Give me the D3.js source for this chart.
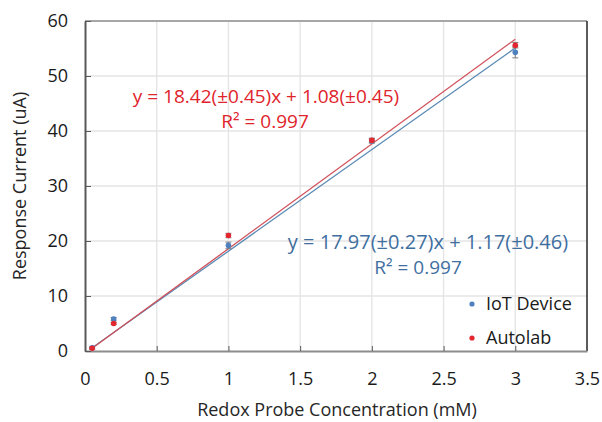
<!DOCTYPE html>
<html>
<head>
<meta charset="utf-8">
<script src="https://cdn.jsdelivr.net/npm/d3@7"></script>
<style>
  body { margin: 0; background: #fff; }
  text { font-family: "Open Sans", sans-serif; }
</style>
</head>
<body>
<svg width="602" height="422"></svg>
<script>
(function (d3) {
  'use strict';

  // concentrations (mM)
  const conc = [0.05, 0.2, 1, 2, 3];
  // response current (uA) and error
  const iotValues = [0.6, 5.8, 19.2, 38.2, 54.3];
  const iotErrors = [0.2, 0.3, 0.6, 0.4, 1.0];
  const autolabValues = [0.5, 5.0, 21.0, 38.3, 55.6];
  const autolabErrors = [0.2, 0.2, 0.4, 0.4, 0.5];
  // trend lines as drawn (start and end current at first/last concentration)
  const iotTrend = [0.6, 55.1];
  const autolabTrend = [0.5, 56.7];

  const xTicks = [0, 0.5, 1, 1.5, 2, 2.5, 3, 3.5];
  const yTicks = [0, 10, 20, 30, 40, 50, 60];

  const COLORS = {
    iot: '#4e81bd',
    iotLine: '#5a8ab4',
    iotText: '#3f6f9f',
    autolab: '#e3262f',
    autolabLine: '#d0505a',
    autolabText: '#e0242c',
    grid: '#e4e4e4'
  };

  const margin = { left: 85, top: 21, right: 15, bottom: 71 };
  const W = 602, H = 422;

  const svg = d3.select('svg');
  const x = d3.scaleLinear().domain([0, 3.5]).range([margin.left, W - margin.right]);
  const y = d3.scaleLinear().domain([0, 60]).range([H - margin.bottom, margin.top]);

  // grid
  svg.append('g').selectAll('line').data(xTicks.slice(1, -1)).enter().append('line')
    .attr('x1', d => x(d)).attr('x2', d => x(d))
    .attr('y1', y(0)).attr('y2', y(60))
    .attr('stroke', COLORS.grid).attr('stroke-width', 1.3);
  svg.append('g').selectAll('line').data(yTicks.slice(1, -1)).enter().append('line')
    .attr('x1', x(0)).attr('x2', x(3.5))
    .attr('y1', d => y(d)).attr('y2', d => y(d))
    .attr('stroke', COLORS.grid).attr('stroke-width', 1.3);

  // frame: top and right
  svg.append('line').attr('x1', x(0)).attr('x2', x(3.5)).attr('y1', y(60)).attr('y2', y(60))
    .attr('stroke', '#a6a6a6').attr('stroke-width', 2);
  svg.append('line').attr('x1', x(3.5)).attr('x2', x(3.5)).attr('y1', y(60)).attr('y2', y(0))
    .attr('stroke', '#262626').attr('stroke-width', 1.5);

  // axes
  const xAxis = svg.append('g').attr('transform', `translate(0,${y(0)})`)
    .call(d3.axisBottom(x).tickValues(xTicks).tickSizeInner(-5).tickSizeOuter(0)
      .tickFormat(d3.format('')));
  xAxis.select('.domain').attr('stroke', '#8c8c8c').attr('stroke-width', 2);
  xAxis.selectAll('.tick line').attr('stroke', '#595959');
  xAxis.selectAll('.tick text').attr('y', 21).attr('dy', '0.71em')
    .attr('font-size', 18).attr('fill', '#1a1a1a');

  const yAxis = svg.append('g').attr('transform', `translate(${x(0)},0)`)
    .call(d3.axisLeft(y).tickValues(yTicks).tickSizeInner(-6).tickSizeOuter(0));
  yAxis.select('.domain').attr('stroke', '#595959').attr('stroke-width', 2);
  yAxis.selectAll('.tick line').attr('stroke', '#595959');
  yAxis.selectAll('.tick text').attr('x', -17).attr('font-size', 18).attr('fill', '#1a1a1a');
  svg.selectAll('.tick text').style('font-family', '"Open Sans", sans-serif');

  // axis titles
  svg.append('text').attr('x', 337).attr('y', 416).attr('text-anchor', 'middle')
    .attr('font-size', 18).attr('fill', '#262626').text('Redox Probe Concentration (mM)');
  svg.append('text').attr('transform', 'translate(26,186) rotate(-90)').attr('text-anchor', 'middle')
    .attr('font-size', 18).attr('fill', '#262626').text('Response Current (uA)');

  // trend lines
  const trendLine = (ends, color) => {
    const pts = [[conc[0], ends[0]], [conc[conc.length - 1], ends[1]]];
    svg.append('path')
      .datum(pts)
      .attr('d', d3.line().x(d => x(d[0])).y(d => y(d[1])))
      .attr('stroke', color).attr('stroke-width', 1.3).attr('fill', 'none');
  };
  trendLine(iotTrend, COLORS.iotLine);
  trendLine(autolabTrend, COLORS.autolabLine);

  // points with error bars
  const series = (values, errors, color) => {
    const g = svg.append('g');
    const pts = conc.map((c, i) => ({ c, v: values[i], e: errors[i] }));
    const eb = g.selectAll('g.eb').data(pts).enter().append('g');
    eb.append('line')
      .attr('x1', d => x(d.c)).attr('x2', d => x(d.c))
      .attr('y1', d => y(d.v - d.e)).attr('y2', d => y(d.v + d.e))
      .attr('stroke', '#7f7f7f').attr('stroke-width', 1);
    [-1, 1].forEach(s => {
      eb.append('line')
        .attr('x1', d => x(d.c) - 3).attr('x2', d => x(d.c) + 3)
        .attr('y1', d => y(d.v + s * d.e)).attr('y2', d => y(d.v + s * d.e))
        .attr('stroke', '#7f7f7f').attr('stroke-width', 1);
    });
    g.selectAll('circle').data(pts).enter().append('circle')
      .attr('cx', d => x(d.c)).attr('cy', d => y(d.v)).attr('r', 2.8)
      .attr('fill', color);
  };
  series(iotValues, iotErrors, COLORS.iot);
  series(autolabValues, autolabErrors, COLORS.autolab);

  // equations
  const eq = (text, r2, cx, cy, rx, color, size) => {
    svg.append('text').attr('x', cx).attr('y', cy).attr('text-anchor', 'middle')
      .attr('font-size', size).attr('fill', color).text(text);
    svg.append('text').attr('x', rx).attr('y', cy + 25).attr('text-anchor', 'middle')
      .attr('font-size', 19).attr('fill', color).text(r2);
  };
  eq('y = 18.42(±0.45)x + 1.08(±0.45)', 'R² = 0.997', 266, 103, 265, COLORS.autolabText, 19);
  eq('y = 17.97(±0.27)x + 1.17(±0.46)', 'R² = 0.997', 428, 249, 418, COLORS.iotText, 20);

  // legend
  const legend = [
    { name: 'IoT Device', color: COLORS.iot },
    { name: 'Autolab', color: COLORS.autolab }
  ];
  const lg = svg.append('g').attr('transform', 'translate(472,304)');
  const items = lg.selectAll('g').data(legend).enter().append('g')
    .attr('transform', (d, i) => `translate(0,${i * 34})`);
  items.append('circle').attr('r', 2.6).attr('fill', d => d.color);
  items.append('text').attr('x', 14).attr('dy', '0.35em')
    .attr('font-size', 18).attr('fill', '#1a1a1a').text(d => d.name);
}(d3));
</script>
</body>
</html>
